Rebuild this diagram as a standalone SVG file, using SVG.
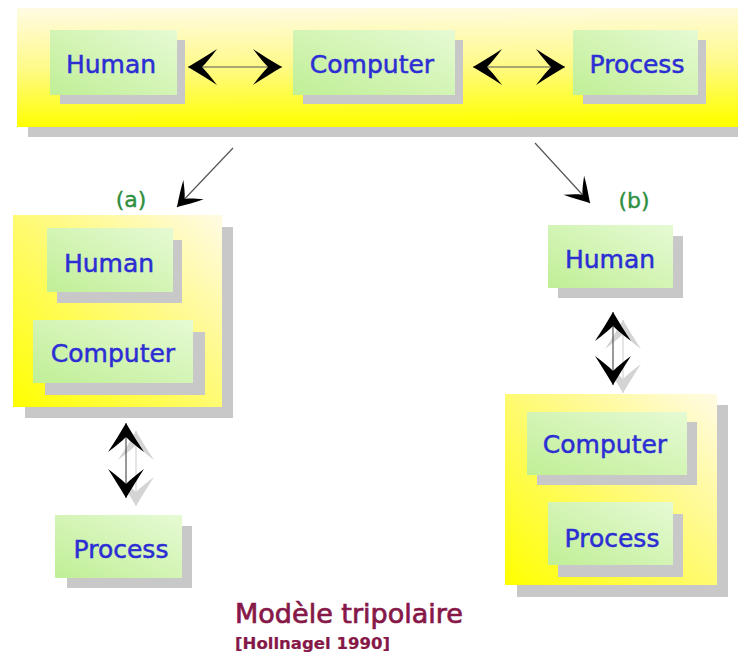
<svg xmlns="http://www.w3.org/2000/svg" width="738" height="657" viewBox="0 0 738 657">
<style>
.shadow{fill:#c8c8c8}
.yel{fill:url(#gy)}
.ban{fill:url(#gb)}
.grn{fill:url(#gg)}
.lbl{font-family:"DejaVu Sans",sans-serif;font-size:25px;fill:#2c2ed4;stroke:#2c2ed4;stroke-width:0.5;text-anchor:middle}
.tag{font-family:"DejaVu Sans",sans-serif;font-size:22px;fill:#2f8f3f;stroke:#2f8f3f;stroke-width:0.4;text-anchor:middle}
.conn{stroke:#555;stroke-width:1.2;fill:none}
.title{font-family:"DejaVu Sans",sans-serif;fill:#861848;stroke:#861848}
</style>
<defs>
<linearGradient id="gb" x1="0" y1="0" x2="0.05" y2="1">
<stop offset="0" stop-color="#fffbe4"/>
<stop offset="0.5" stop-color="#fffa8a"/>
<stop offset="1" stop-color="#ffff00"/>
</linearGradient>
<linearGradient id="gy" x1="1" y1="0" x2="0" y2="1">
<stop offset="0" stop-color="#fffbe4"/>
<stop offset="0.4" stop-color="#fffa88"/>
<stop offset="1" stop-color="#ffff00"/>
</linearGradient>
<linearGradient id="gg" x1="1" y1="0" x2="0" y2="1">
<stop offset="0" stop-color="#e6fad4"/>
<stop offset="1" stop-color="#c0ef96"/>
</linearGradient>
<marker id="ah" viewBox="-32 -21 34 42" markerWidth="34" markerHeight="42" refX="0" refY="0" markerUnits="userSpaceOnUse" orient="auto-start-reverse">
<path d="M0,0 C-10,-6 -20,-12 -29,-18 C-23,-10 -18,-4 -14,0 C-18,4 -23,10 -29,18 C-20,12 -10,6 0,0 Z" fill="#000"/>
</marker>
<marker id="ahs" viewBox="-32 -21 34 42" markerWidth="34" markerHeight="42" refX="0" refY="0" markerUnits="userSpaceOnUse" orient="auto-start-reverse">
<path d="M0,0 C-10,-6 -20,-12 -29,-18 C-23,-10 -18,-4 -14,0 C-18,4 -23,10 -29,18 C-20,12 -10,6 0,0 Z" fill="#d4d4d4"/>
</marker>
<marker id="ad" viewBox="-28 -17 30 34" markerWidth="30" markerHeight="34" refX="0" refY="0" markerUnits="userSpaceOnUse" orient="auto">
<path d="M0,0 C-8,-5 -16,-10 -24,-14 C-19,-8 -15,-3 -11,0 C-15,3 -19,8 -24,14 C-16,10 -8,5 0,0 Z" fill="#000"/>
</marker>
</defs>

<g id="banner">
<rect class="shadow" x="28" y="18" width="720" height="119"/>
<rect class="ban" x="17" y="8" width="730" height="119"/>
</g>
<g id="groupA">
<rect class="shadow" x="25" y="227" width="208" height="191"/>
<rect class="yel" x="13" y="215" width="209" height="192"/>
</g>
<g id="groupB">
<rect class="shadow" x="517" y="405" width="211" height="192"/>
<rect class="yel" x="505" y="394" width="212" height="191"/>
</g>

<g id="top-human">
<rect class="shadow" x="60" y="40" width="125" height="64"/>
<rect class="grn" x="50" y="30" width="127" height="65"/>
<text class="lbl" x="111" y="73">Human</text>
</g>
<g id="top-computer">
<rect class="shadow" x="303" y="40" width="160" height="64"/>
<rect class="grn" x="293" y="30" width="162" height="65"/>
<text class="lbl" x="372" y="73">Computer</text>
</g>
<g id="top-process">
<rect class="shadow" x="583" y="40" width="123" height="64"/>
<rect class="grn" x="573" y="30" width="125" height="65"/>
<text class="lbl" x="637" y="73">Process</text>
</g>

<g id="a-human">
<rect class="shadow" x="57" y="240" width="125" height="63"/>
<rect class="grn" x="47" y="228" width="126" height="64"/>
<text class="lbl" x="109" y="272">Human</text>
</g>
<g id="a-computer">
<rect class="shadow" x="45" y="332" width="160" height="63"/>
<rect class="grn" x="33" y="320" width="160" height="63"/>
<text class="lbl" x="113" y="362">Computer</text>
</g>
<g id="a-process">
<rect class="shadow" x="67" y="526" width="125" height="62"/>
<rect class="grn" x="55" y="515" width="127" height="63"/>
<text class="lbl" x="121" y="558">Process</text>
</g>

<g id="b-human">
<rect class="shadow" x="558" y="236" width="125" height="62"/>
<rect class="grn" x="548" y="225" width="125" height="63"/>
<text class="lbl" x="610" y="268">Human</text>
</g>
<g id="b-computer">
<rect class="shadow" x="537" y="422" width="160" height="63"/>
<rect class="grn" x="527" y="412" width="160" height="63"/>
<text class="lbl" x="605" y="453">Computer</text>
</g>
<g id="b-process">
<rect class="shadow" x="558" y="514" width="125" height="63"/>
<rect class="grn" x="548" y="502" width="125" height="63"/>
<text class="lbl" x="612" y="547">Process</text>
</g>

<g id="labels">
<text class="tag" x="131" y="207">(a)</text>
<text class="tag" x="634" y="208">(b)</text>
<text class="title" x="235" y="623" font-size="26" stroke-width="0.7" textLength="228" lengthAdjust="spacingAndGlyphs">Modèle tripolaire</text>
<text class="title" x="235" y="649" font-size="16" font-weight="bold" stroke-width="0.2" textLength="155" lengthAdjust="spacingAndGlyphs">[Hollnagel 1990]</text>
</g>

<g id="connectors">
<line class="conn" x1="188" y1="67" x2="282" y2="67" marker-start="url(#ah)" marker-end="url(#ah)"/>
<line class="conn" x1="473" y1="67" x2="565" y2="67" marker-start="url(#ah)" marker-end="url(#ah)"/>
<line class="conn" x1="233" y1="148" x2="177" y2="207" marker-end="url(#ad)"/>
<line class="conn" x1="535" y1="143" x2="590" y2="203" marker-end="url(#ad)"/>
<line x1="136" y1="431" x2="136" y2="506" stroke="#d4d4d4" stroke-width="1.2" marker-start="url(#ahs)" marker-end="url(#ahs)"/>
<line class="conn" x1="126" y1="423" x2="126" y2="498" marker-start="url(#ah)" marker-end="url(#ah)"/>
<line x1="623" y1="320" x2="623" y2="393" stroke="#d4d4d4" stroke-width="1.2" marker-start="url(#ahs)" marker-end="url(#ahs)"/>
<line class="conn" x1="613" y1="312" x2="613" y2="385" marker-start="url(#ah)" marker-end="url(#ah)"/>
</g>
</svg>
